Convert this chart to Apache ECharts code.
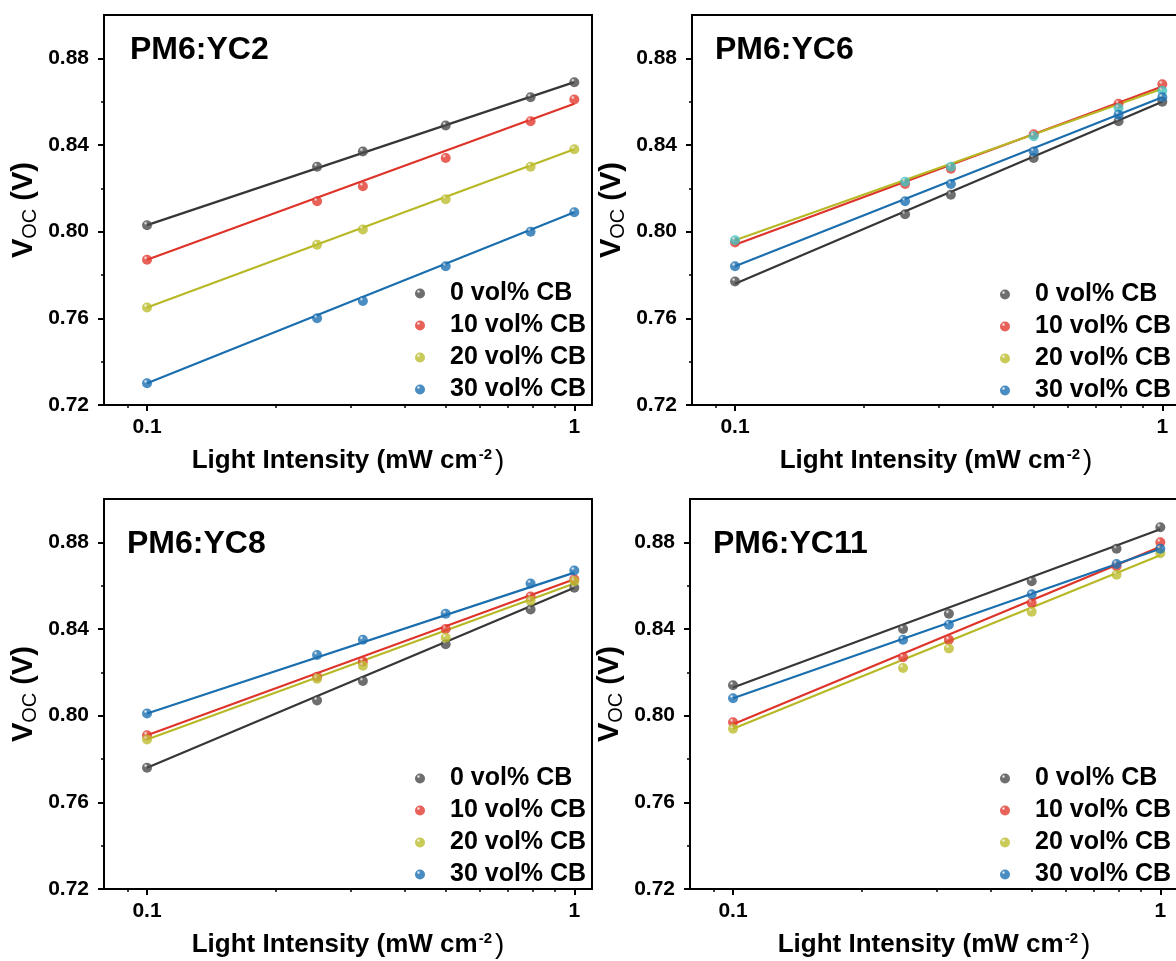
<!DOCTYPE html>
<html>
<head>
<meta charset="utf-8">
<script src="https://cdn.jsdelivr.net/npm/echarts@6/dist/echarts.min.js"></script>
<style>
  html, body { margin: 0; padding: 0; background: #fff; }
  #chart { width: 1176px; height: 961px; }
</style>
</head>
<body>
<div id="chart"></div>
<script>
// light intensity steps (mW cm-2)
var intensity = [0.1, 0.25, 0.32, 0.5, 0.79, 1]
var blends = ['0 vol% CB', '10 vol% CB', '20 vol% CB', '30 vol% CB']
var panelNames = ['PM6:YC2', 'PM6:YC6', 'PM6:YC8', 'PM6:YC11']

// Voc (V), one row per CB content
var vocYC2 = [
  [0.803, 0.830, 0.837, 0.849, 0.862, 0.869],
  [0.787, 0.814, 0.821, 0.834, 0.851, 0.861],
  [0.765, 0.794, 0.801, 0.815, 0.830, 0.838],
  [0.730, 0.760, 0.768, 0.784, 0.800, 0.809]
]
var vocYC6 = [
  [0.777, 0.808, 0.817, 0.834, 0.851, 0.860],
  [0.795, 0.822, 0.829, 0.845, 0.859, 0.868],
  [0.796, 0.823, 0.830, 0.844, 0.857, 0.865],
  [0.784, 0.814, 0.822, 0.837, 0.854, 0.862]
]
var vocYC8 = [
  [0.776, 0.807, 0.816, 0.833, 0.849, 0.859],
  [0.791, 0.818, 0.825, 0.840, 0.855, 0.863],
  [0.789, 0.817, 0.823, 0.836, 0.853, 0.862],
  [0.801, 0.828, 0.835, 0.847, 0.861, 0.867]
]
var vocYC11 = [
  [0.814, 0.840, 0.847, 0.862, 0.877, 0.887],
  [0.797, 0.827, 0.835, 0.852, 0.869, 0.880],
  [0.794, 0.822, 0.831, 0.848, 0.865, 0.875],
  [0.808, 0.835, 0.842, 0.856, 0.870, 0.877]
]
// linear fit lines, Voc at 0.1 and at 1
var fitYC2 = [[0.803, 0.869], [0.787, 0.859], [0.765, 0.838], [0.730, 0.809]]
var fitYC6 = [[0.776, 0.860], [0.794, 0.867], [0.796, 0.866], [0.784, 0.862]]
var fitYC8 = [[0.776, 0.859], [0.791, 0.863], [0.789, 0.861], [0.801, 0.866]]
var fitYC11 = [[0.813, 0.886], [0.796, 0.878], [0.794, 0.874], [0.808, 0.877]]

var yTicks = [0.72, 0.76, 0.80, 0.84, 0.88]
var yMinor = [0.74, 0.78, 0.82, 0.86]
var xTicks = [0.1, 1]
var xMinor = [0.09, 0.2, 0.3, 0.4, 0.5, 0.6, 0.7, 0.8, 0.9]

var vocData = [vocYC2, vocYC6, vocYC8, vocYC11]
var fitData = [fitYC2, fitYC6, fitYC8, fitYC11]

var lineColors = ['#363636', '#de3329', '#b7b825', '#1b6ead']
var dotColors = ['#4a4a4a', '#e23a30', '#bcbd2e', '#1c70b2']

var FONT = 'Liberation Sans, Arial, sans-serif'

var panels = [
  { left: 104, top: 15, legLeft: 415, legTop: 281, tx: 130, ty: 50 },
  { left: 692, top: 15, legLeft: 1000, legTop: 282, tx: 715, ty: 50 },
  { left: 104, top: 499, legLeft: 415, legTop: 766, tx: 127, ty: 544 },
  { left: 690, top: 499, legLeft: 1000, legTop: 766, tx: 713, ty: 544 }
]

function dotColor(c) {
  return {
    type: 'radial', x: 0.35, y: 0.3, r: 0.8,
    colorStops: [{ offset: 0, color: '#f4f4f4' }, { offset: 0.25, color: c }, { offset: 1, color: c }]
  }
}

var grids = [], xAxes = [], yAxes = [], series = [], legends = [], graphics = []

panels.forEach(function (p, k) {
  grids.push({
    left: p.left, top: p.top, width: 488, height: 390,
    outerBoundsMode: 'none', containLabel: false,
    show: true, borderColor: '#000', borderWidth: 2, backgroundColor: 'transparent'
  })
  // main x axis
  xAxes.push({
    type: 'log', gridIndex: k, min: 0.0793, max: 1.10,
    name: 'Light Intensity (mW cm{sup|-2}{p|)}',
    nameLocation: 'middle', nameGap: 42,
    nameTextStyle: {
      fontFamily: FONT, fontSize: 26, fontWeight: 'bold', color: '#000',
      rich: {
        sup: { fontFamily: FONT, fontSize: 15, fontWeight: 'bold', color: '#000', verticalAlign: 'top', padding: [0, 3, 13, 1] },
        p: { fontFamily: FONT, fontSize: 28, fontWeight: 'normal', color: '#000' }
      }
    },
    axisLine: { show: true, lineStyle: { color: '#000', width: 2 } },
    axisTick: { show: true, inside: false, length: 6, lineStyle: { color: '#000', width: 2 }, customValues: xTicks },
    axisLabel: {
      customValues: xTicks, margin: 12,
      fontFamily: FONT, fontSize: 21, fontWeight: 'bold', color: '#000',
      formatter: function (v) { return String(v) }
    },
    splitLine: { show: false }, minorTick: { show: false }
  })
  // minor x ticks
  xAxes.push({
    type: 'log', gridIndex: k, min: 0.0793, max: 1.10, position: 'bottom',
    axisLine: { show: false },
    axisTick: { show: true, inside: false, length: 3, lineStyle: { color: '#000', width: 1.5 }, customValues: xMinor },
    axisLabel: { show: false }, splitLine: { show: false }
  })
  yAxes.push({
    type: 'value', gridIndex: k, min: 0.72, max: 0.90,
    name: '{v|V}{s|OC}{v| (V)}',
    nameLocation: 'middle', nameGap: 64, nameRotate: 90,
    nameTextStyle: {
      rich: {
        v: { fontFamily: FONT, fontSize: 29, fontWeight: 'bold', color: '#000' },
        s: { fontFamily: FONT, fontSize: 20, color: '#000', verticalAlign: 'bottom', padding: [12, 0, 0, 0] }
      }
    },
    axisLine: { show: true, lineStyle: { color: '#000', width: 2 } },
    axisTick: { show: true, inside: false, length: 6, lineStyle: { color: '#000', width: 2 }, customValues: yTicks },
    axisLabel: {
      customValues: yTicks, margin: 15,
      fontFamily: FONT, fontSize: 21, fontWeight: 'bold', color: '#000',
      formatter: function (v) { return v.toFixed(2) }
    },
    splitLine: { show: false }
  })
  yAxes.push({
    type: 'value', gridIndex: k, min: 0.72, max: 0.90, position: 'left',
    axisLine: { show: false },
    axisTick: { show: true, inside: false, length: 3, lineStyle: { color: '#000', width: 1.5 }, customValues: yMinor },
    axisLabel: { show: false }, splitLine: { show: false }
  })

  for (var i = 0; i < blends.length; i++) {
    var fit = fitData[k][i]
    series.push({
      name: blends[i] + ' fit', type: 'line', xAxisIndex: 2 * k, yAxisIndex: 2 * k,
      data: [[intensity[0], fit[0]], [intensity[intensity.length - 1], fit[1]]],
      showSymbol: false, silent: true, z: 2,
      lineStyle: { color: lineColors[i], width: 2.2 }
    })
    var c = dotColors[i]
    // the 20 vol% markers of PM6:YC6 render teal in the source figure
    if (k === 1 && i === 2) c = '#45c2bf'
    series.push({
      name: blends[i], type: 'scatter', xAxisIndex: 2 * k, yAxisIndex: 2 * k,
      data: intensity.map(function (x, j) { return [x, vocData[k][i][j]] }),
      symbol: 'circle', symbolSize: 10, z: 3,
      itemStyle: { color: dotColor(c) }
    })
  }

  legends.push({
    orient: 'vertical', left: p.legLeft, top: p.legTop, padding: 0,
    itemWidth: 50, itemHeight: 10, itemGap: 7, icon: 'circle',
    selectedMode: false,
    data: blends.map(function (b, i) {
      return { name: b, itemStyle: { color: dotColor(dotColors[i]) } }
    }),
    textStyle: { fontFamily: FONT, fontSize: 25, fontWeight: 'bold', color: '#000', lineHeight: 25 }
  })

  graphics.push({
    type: 'text', x: p.tx, y: p.ty, z: 10,
    style: {
      text: panelNames[k], fill: '#000',
      font: 'bold 32px ' + FONT, verticalAlign: 'middle'
    }
  })
})

var myChart = echarts.init(document.getElementById('chart'))
var option = {
  backgroundColor: '#fff',
  animation: false,
  grid: grids,
  xAxis: xAxes,
  yAxis: yAxes,
  legend: legends,
  graphic: graphics,
  series: series
}
myChart.setOption(option, true)
</script>
</body>
</html>
